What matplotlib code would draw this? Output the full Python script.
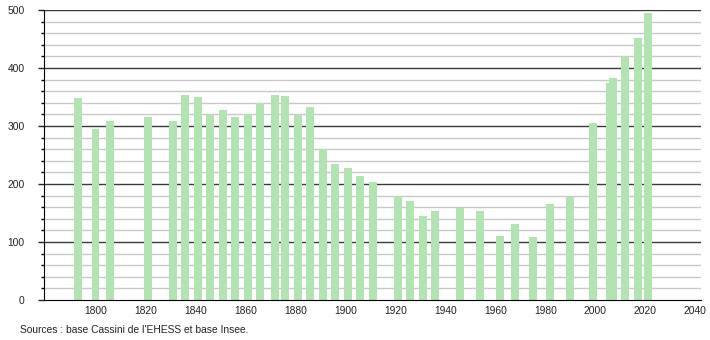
import matplotlib
matplotlib.use("Agg")
import matplotlib.pyplot as plt
from matplotlib.ticker import MultipleLocator

# population by census year
years = [1793, 1800, 1806, 1821, 1831, 1836, 1841, 1846, 1851, 1856,
         1861, 1866, 1872, 1876, 1881, 1886, 1891, 1896, 1901, 1906,
         1911, 1921, 1926, 1931, 1936, 1946, 1954, 1962, 1968, 1975,
         1982, 1990, 1999, 2006, 2007, 2012, 2017, 2021]
population = [348, 295, 309, 315, 309, 353, 350, 319, 328, 315,
              321, 339, 353, 351, 319, 333, 260, 234, 228, 214,
              203, 179, 171, 145, 153, 158, 153, 110, 131, 109,
              165, 178, 305, 375, 382, 421, 451, 494]
xticks = [1800, 1820, 1840, 1860, 1880, 1900, 1920, 1940, 1960, 1980, 2000, 2020, 2040]
yticks = [0, 100, 200, 300, 400, 500]
source = "Sources : base Cassini de l'EHESS et base Insee."

plt.rcParams['font.family'] = ['Liberation Sans', 'DejaVu Sans']

fig = plt.figure(figsize=(7.1, 3.4), dpi=100)
ax = fig.add_axes([0.062, 0.1176, 0.925, 0.853])

# grid: dark lines every 100, light ones every 20
for v in range(20, 500, 20):
    if v % 100:
        ax.axhline(v, color='#c8c8c8', lw=1, zorder=0)
for v in yticks[1:]:
    ax.axhline(v, color='#3a3a3a', lw=1, zorder=0)

ax.bar(years, population, width=3.2, color='#b2e4b2', zorder=2)

ax.set_xlim(1779.4, 2042.2)
ax.set_ylim(0, 500)
ax.set_xticks(xticks)
ax.set_yticks(yticks)
ax.yaxis.set_minor_locator(MultipleLocator(20))

for s in ['top', 'right']:
    ax.spines[s].set_visible(False)
ax.spines['left'].set_color('black')
ax.spines['bottom'].set_color('black')

ax.tick_params(axis='y', which='major', length=4, width=1, pad=10, labelsize=7.4, colors='#222222')
ax.tick_params(axis='y', which='minor', length=2, width=1)
ax.tick_params(axis='x', length=0, pad=4, labelsize=7.4, colors='#222222')

fig.text(0.028, 0.022, source, fontsize=7.4, color='#222222')

fig.savefig('out.png', dpi=100)
